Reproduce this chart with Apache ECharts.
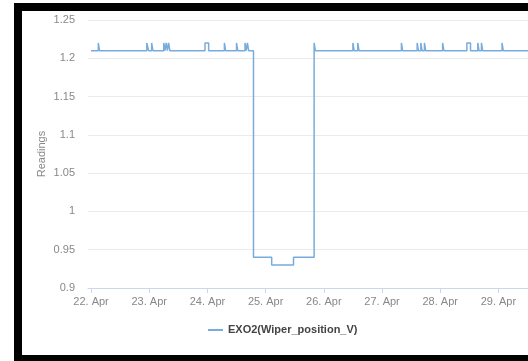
<!DOCTYPE html>
<html>
<head>
<meta charset="utf-8">
<script src="https://cdn.jsdelivr.net/npm/echarts@6/dist/echarts.min.js"></script>
<style>
  html, body { margin: 0; padding: 0; background: #fff; }
  #chart { width: 528px; height: 361px; }
</style>
</head>
<body>
<div id="chart"></div>
<script>
// Sensor readings: each entry is the time at which the value changed and the new value
const times = [
  '2016-04-22T00:00', '2016-04-22T03:00', '2016-04-22T03:30',
  '2016-04-22T23:00', '2016-04-22T23:45', '2016-04-23T01:00', '2016-04-23T01:30',
  '2016-04-23T06:00', '2016-04-23T06:30', '2016-04-23T07:00', '2016-04-23T07:30',
  '2016-04-23T08:00', '2016-04-23T08:30',
  '2016-04-23T23:00', '2016-04-24T00:30',
  '2016-04-24T07:00', '2016-04-24T07:30',
  '2016-04-24T12:00', '2016-04-24T12:30',
  '2016-04-24T15:30', '2016-04-24T16:00', '2016-04-24T16:30', '2016-04-24T17:00',
  '2016-04-24T19:00', '2016-04-25T02:30', '2016-04-25T11:30',
  '2016-04-25T20:00', '2016-04-25T20:30',
  '2016-04-26T12:00', '2016-04-26T12:30', '2016-04-26T14:00', '2016-04-26T14:30',
  '2016-04-27T08:00', '2016-04-27T08:30',
  '2016-04-27T14:30', '2016-04-27T15:00', '2016-04-27T16:00', '2016-04-27T16:30',
  '2016-04-27T17:30', '2016-04-27T18:00',
  '2016-04-28T01:00', '2016-04-28T01:30',
  '2016-04-28T11:00', '2016-04-28T12:30',
  '2016-04-28T15:30', '2016-04-28T16:00', '2016-04-28T17:00', '2016-04-28T17:30',
  '2016-04-29T01:30', '2016-04-29T02:00',
  '2016-04-29T23:00'
];
const readings = [
  1.21, 1.22, 1.21,
  1.22, 1.21, 1.22, 1.21,
  1.22, 1.21, 1.22, 1.21,
  1.22, 1.21,
  1.22, 1.21,
  1.22, 1.21,
  1.22, 1.21,
  1.22, 1.21, 1.22, 1.21,
  0.94, 0.93, 0.94,
  1.22, 1.21,
  1.22, 1.21, 1.22, 1.21,
  1.22, 1.21,
  1.22, 1.21, 1.22, 1.21,
  1.22, 1.21,
  1.22, 1.21,
  1.22, 1.21,
  1.22, 1.21, 1.22, 1.21,
  1.22, 1.21,
  1.21
];
// Daily ticks along the time axis
const tickDays = [
  '2016-04-22T00:00', '2016-04-23T00:00', '2016-04-24T00:00', '2016-04-25T00:00',
  '2016-04-26T00:00', '2016-04-27T00:00', '2016-04-28T00:00', '2016-04-29T00:00'
];
const seriesName = 'EXO2(Wiper_position_V)';
const monthNames = ['Jan', 'Feb', 'Mar', 'Apr', 'May', 'Jun', 'Jul', 'Aug', 'Sep', 'Oct', 'Nov', 'Dec'];

const ts = s => new Date(s).getTime();
const HOUR = 3600 * 1000;
const tickValues = tickDays.map(ts);
const axisMin = tickValues[0] - 1.25 * HOUR;
const axisMax = ts('2016-04-30T00:00');

const chart = echarts.init(document.getElementById('chart'), null, { renderer: 'canvas' });
const font = '"Liberation Sans", Arial, sans-serif';

chart.setOption({
  backgroundColor: '#ffffff',
  animation: false,
  graphic: [
    { type: 'rect', z: -10, silent: true, shape: { x: 14, y: 3, width: 514, height: 358 }, style: { fill: '#000' } },
    { type: 'rect', z: -9, silent: true, shape: { x: 22, y: 11, width: 506, height: 344 }, style: { fill: '#fff' } }
  ],
  grid: { left: 88, top: 20, width: 468.6, height: 268, containLabel: false, outerBoundsMode: 'none' },
  xAxis: {
    type: 'value',
    min: axisMin,
    max: axisMax,
    axisLine: { show: true, lineStyle: { color: '#ccd6eb', width: 1 } },
    axisTick: { show: true, customValues: tickValues, length: 5, lineStyle: { color: '#ccd6eb' } },
    axisLabel: {
      customValues: tickValues,
      color: '#888',
      fontFamily: font,
      fontSize: 11,
      margin: 8,
      showMinLabel: true,
      showMaxLabel: true,
      formatter: v => { const d = new Date(v); return d.getDate() + '. ' + monthNames[d.getMonth()]; }
    },
    splitLine: { show: false }
  },
  yAxis: {
    type: 'value',
    min: 0.9,
    max: 1.25,
    interval: 0.05,
    name: 'Readings',
    nameLocation: 'middle',
    nameRotate: 90,
    nameGap: 41,
    nameMoveOverlap: false,
    nameTextStyle: { color: '#888', fontFamily: font, fontSize: 11 },
    axisLine: { show: false },
    axisTick: { show: false },
    axisLabel: { color: '#888', fontFamily: font, fontSize: 11, margin: 13 },
    splitLine: { lineStyle: { color: '#ebebeb', width: 1 } }
  },
  legend: {
    left: 203,
    top: 319,
    icon: 'rect',
    itemWidth: 15,
    itemHeight: 2,
    itemGap: 5,
    textStyle: { color: '#444', fontFamily: font, fontSize: 11, fontWeight: 'bold', lineHeight: 12 },
    data: [seriesName]
  },
  series: [{
    name: seriesName,
    type: 'line',
    step: 'end',
    showSymbol: false,
    symbol: 'none',
    color: '#78acdc',
    lineStyle: { width: 1.5, color: '#78acdc' },
    data: times.map((t, i) => [ts(t), readings[i]])
  }]
});
</script>
</body>
</html>
